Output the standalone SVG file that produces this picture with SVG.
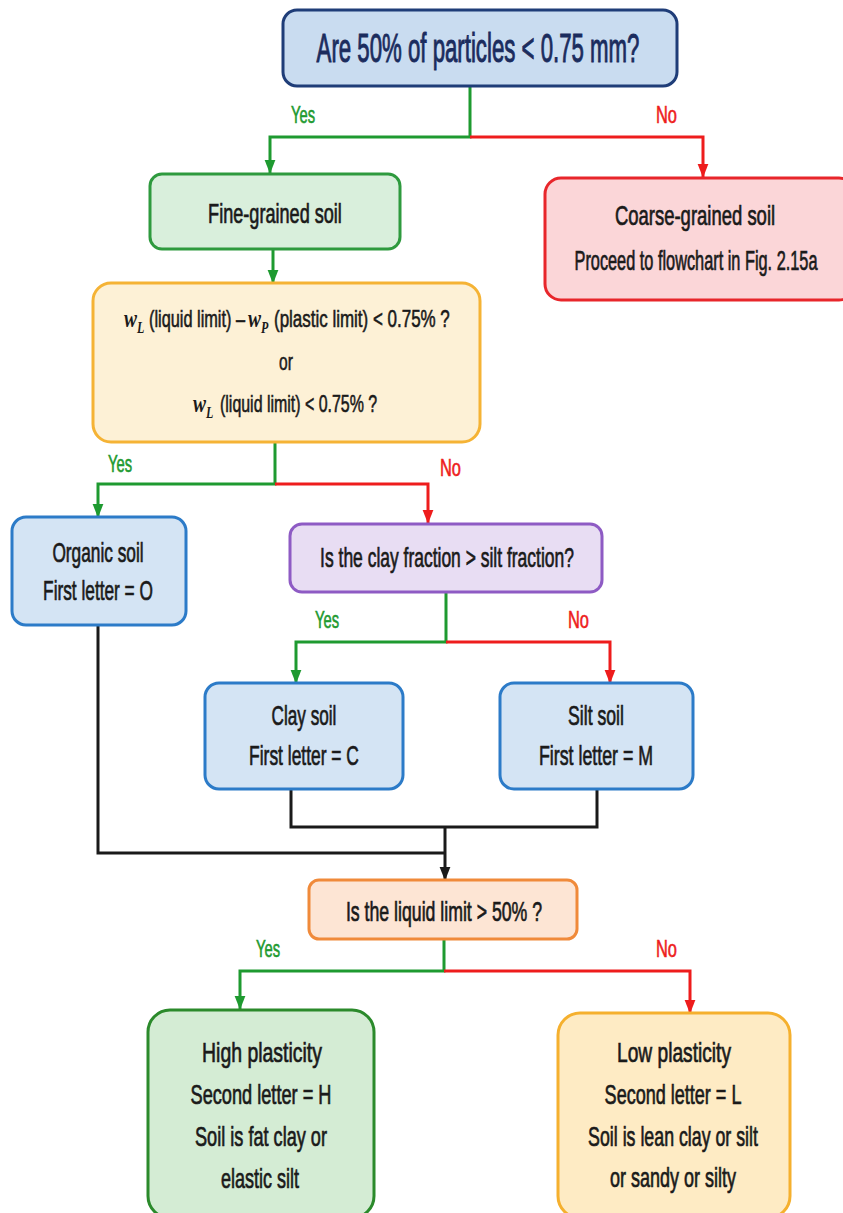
<svg xmlns="http://www.w3.org/2000/svg" width="843" height="1213" viewBox="0 0 843 1213">
<defs>
<style>
.t{font-family:"Liberation Sans",Arial,sans-serif;fill:#1a1a1a;font-size:27px;text-anchor:middle;stroke:#1a1a1a;stroke-width:0.7}
.tl{font-family:"Liberation Sans",Arial,sans-serif;fill:#1a1a1a;font-size:24px;stroke:#1a1a1a;stroke-width:0.6}
.w{font-family:"Liberation Serif","Times New Roman",serif;font-style:italic;font-weight:bold;fill:#1a1a1a;font-size:26px}
.ws{font-size:16px}
.yes{font-family:"Liberation Sans",Arial,sans-serif;fill:#1e9a30;font-size:23px;stroke:#1e9a30;stroke-width:0.6}
.no{font-family:"Liberation Sans",Arial,sans-serif;fill:#ee1c1c;font-size:23px;stroke:#ee1c1c;stroke-width:0.6}
.g{fill:none;stroke:#1e9a30;stroke-width:3}
.r{fill:none;stroke:#ee1c1c;stroke-width:3}
.k{fill:none;stroke:#1a1a1a;stroke-width:3}
.box{stroke-width:3}
</style>
<marker id="mg" markerUnits="userSpaceOnUse" markerWidth="14" markerHeight="18" refX="17" refY="7" orient="auto" viewBox="0 0 18 14"><path d="M0,0 L18,7 L0,14 Z" fill="#1e9a30"/></marker>
<marker id="mr" markerUnits="userSpaceOnUse" markerWidth="14" markerHeight="18" refX="17" refY="7" orient="auto" viewBox="0 0 18 14"><path d="M0,0 L18,7 L0,14 Z" fill="#ee1c1c"/></marker>
<marker id="mk" markerUnits="userSpaceOnUse" markerWidth="14" markerHeight="18" refX="17" refY="7" orient="auto" viewBox="0 0 18 14"><path d="M0,0 L18,7 L0,14 Z" fill="#1a1a1a"/></marker>
</defs>
<rect width="843" height="1213" fill="#ffffff"/>

<g id="connectors">
<path class="g" d="M470,86 V137 H270 V173" marker-end="url(#mg)"/>
<path class="r" d="M470,137 H703 V177" marker-end="url(#mr)"/>
<path class="g" d="M273,249 V283" marker-end="url(#mg)"/>
<path class="g" d="M275,442 V484 H98 V517" marker-end="url(#mg)"/>
<path class="r" d="M275,484 H428 V523" marker-end="url(#mr)"/>
<path class="g" d="M446,592 V642 H296 V683" marker-end="url(#mg)"/>
<path class="r" d="M446,642 H610 V683" marker-end="url(#mr)"/>
<path class="k" d="M98,625 V853 H445"/>
<path class="k" d="M291,789 V827 H597 V789"/>
<path class="k" d="M445,827 V880" marker-end="url(#mk)"/>
<path class="g" d="M444,939 V971 H240 V1009" marker-end="url(#mg)"/>
<path class="r" d="M444,971 H690 V1013" marker-end="url(#mr)"/>
<text class="yes" transform="translate(291,123) scale(0.6,1)" textLength="40" lengthAdjust="spacingAndGlyphs">Yes</text>
<text class="no" transform="translate(656,123) scale(0.6,1)" textLength="35" lengthAdjust="spacingAndGlyphs">No</text>
<text class="yes" transform="translate(108,472) scale(0.6,1)" textLength="40" lengthAdjust="spacingAndGlyphs">Yes</text>
<text class="no" transform="translate(440,476) scale(0.6,1)" textLength="35" lengthAdjust="spacingAndGlyphs">No</text>
<text class="yes" transform="translate(315,628) scale(0.6,1)" textLength="40" lengthAdjust="spacingAndGlyphs">Yes</text>
<text class="no" transform="translate(568,628) scale(0.6,1)" textLength="35" lengthAdjust="spacingAndGlyphs">No</text>
<text class="yes" transform="translate(256,957) scale(0.6,1)" textLength="40" lengthAdjust="spacingAndGlyphs">Yes</text>
<text class="no" transform="translate(656,957) scale(0.6,1)" textLength="35" lengthAdjust="spacingAndGlyphs">No</text>
</g>

<g id="n-top">
<rect class="box" x="283" y="10" width="394" height="76" rx="14" fill="#c9dcf0" stroke="#1f3d78"/>
<text transform="translate(478,62) scale(0.6,1)" font-family="Liberation Sans, Arial, sans-serif" font-size="40" fill="#1b2c5e" stroke="#1b2c5e" stroke-width="1" text-anchor="middle" textLength="538" lengthAdjust="spacingAndGlyphs">Are 50% of particles &lt; 0.75 mm?</text>
</g>

<g id="n-fine">
<rect class="box" x="150" y="174" width="250" height="75" rx="12" fill="#d9efdc" stroke="#2e9a3e"/>
<text class="t" transform="translate(275,223) scale(0.6,1)" font-size="29" textLength="223" lengthAdjust="spacingAndGlyphs">Fine-grained soil</text>
</g>

<g id="n-coarse">
<rect class="box" x="545" y="178" width="310" height="122" rx="16" fill="#fbd6d8" stroke="#e8262b"/>
<text class="t" transform="translate(695,225) scale(0.6,1)" font-size="29" textLength="267" lengthAdjust="spacingAndGlyphs">Coarse-grained soil</text>
<text class="t" transform="translate(696,270) scale(0.6,1)" font-size="23" textLength="405" lengthAdjust="spacingAndGlyphs">Proceed to flowchart in Fig. 2.15a</text>
</g>

<g id="n-limits">
<rect class="box" x="93" y="283" width="387" height="159" rx="18" fill="#fdf1d6" stroke="#f5b335"/>
<text class="w" transform="translate(124,327) scale(0.75,1)">w<tspan class="ws" dy="6">L</tspan></text>
<text class="tl" transform="translate(149,327) scale(0.6,1)" textLength="160" lengthAdjust="spacingAndGlyphs">(liquid limit) –</text>
<text class="w" transform="translate(248,327) scale(0.75,1)">w<tspan class="ws" dy="6">P</tspan></text>
<text class="tl" transform="translate(274,327) scale(0.6,1)" textLength="293" lengthAdjust="spacingAndGlyphs">(plastic limit) &lt; 0.75% ?</text>
<text class="tl" transform="translate(279,370) scale(0.6,1)" textLength="23" lengthAdjust="spacingAndGlyphs">or</text>
<text class="w" transform="translate(193,412) scale(0.75,1)">w<tspan class="ws" dy="6">L</tspan></text>
<text class="tl" transform="translate(220,412) scale(0.6,1)" textLength="262" lengthAdjust="spacingAndGlyphs">(liquid limit) &lt; 0.75% ?</text>
</g>

<g id="n-organic">
<rect class="box" x="12" y="517" width="174" height="108" rx="14" fill="#d4e4f4" stroke="#2c7bc8"/>
<text class="t" transform="translate(98,562) scale(0.6,1)" textLength="152" lengthAdjust="spacingAndGlyphs">Organic soil</text>
<text class="t" transform="translate(98,600) scale(0.6,1)" textLength="183" lengthAdjust="spacingAndGlyphs">First letter = O</text>
</g>

<g id="n-clayq">
<rect class="box" x="290" y="524" width="312" height="68" rx="12" fill="#e8ddf3" stroke="#8e5bc4"/>
<text class="t" transform="translate(447,567) scale(0.6,1)" font-size="26" textLength="423" lengthAdjust="spacingAndGlyphs">Is the clay fraction &gt; silt fraction?</text>
</g>

<g id="n-clay">
<rect class="box" x="205" y="683" width="198" height="106" rx="14" fill="#d4e4f4" stroke="#2c7bc8"/>
<text class="t" transform="translate(304,725) scale(0.6,1)" textLength="108" lengthAdjust="spacingAndGlyphs">Clay soil</text>
<text class="t" transform="translate(304,765) scale(0.6,1)" textLength="183" lengthAdjust="spacingAndGlyphs">First letter = C</text>
</g>

<g id="n-silt">
<rect class="box" x="500" y="683" width="193" height="106" rx="14" fill="#d4e4f4" stroke="#2c7bc8"/>
<text class="t" transform="translate(596,725) scale(0.6,1)" textLength="93" lengthAdjust="spacingAndGlyphs">Silt soil</text>
<text class="t" transform="translate(596,765) scale(0.6,1)" textLength="190" lengthAdjust="spacingAndGlyphs">First letter = M</text>
</g>

<g id="n-ll">
<rect class="box" x="309" y="880" width="268" height="59" rx="10" fill="#fde5d4" stroke="#f08a3a"/>
<text class="t" transform="translate(444,921) scale(0.6,1)" font-size="28" textLength="327" lengthAdjust="spacingAndGlyphs">Is the liquid limit &gt; 50% ?</text>
</g>

<g id="n-high">
<rect class="box" x="148" y="1010" width="226" height="208" rx="22" fill="#d4ecd4" stroke="#2b8a2b"/>
<text class="t" transform="translate(262,1062) scale(0.6,1)" textLength="200" lengthAdjust="spacingAndGlyphs">High plasticity</text>
<text class="t" transform="translate(261,1104) scale(0.6,1)" textLength="235" lengthAdjust="spacingAndGlyphs">Second letter = H</text>
<text class="t" transform="translate(261,1146) scale(0.6,1)" textLength="220" lengthAdjust="spacingAndGlyphs">Soil is fat clay or</text>
<text class="t" transform="translate(260,1188) scale(0.6,1)" textLength="130" lengthAdjust="spacingAndGlyphs">elastic silt</text>
</g>

<g id="n-low">
<rect class="box" x="558" y="1013" width="232" height="205" rx="22" fill="#feebc4" stroke="#f5b02e"/>
<text class="t" transform="translate(674,1062) scale(0.6,1)" textLength="190" lengthAdjust="spacingAndGlyphs">Low plasticity</text>
<text class="t" transform="translate(673,1104) scale(0.6,1)" textLength="228" lengthAdjust="spacingAndGlyphs">Second letter = L</text>
<text class="t" transform="translate(673,1146) scale(0.6,1)" textLength="283" lengthAdjust="spacingAndGlyphs">Soil is lean clay or silt</text>
<text class="t" transform="translate(673,1187) scale(0.6,1)" textLength="210" lengthAdjust="spacingAndGlyphs">or sandy or silty</text>
</g>
</svg>
